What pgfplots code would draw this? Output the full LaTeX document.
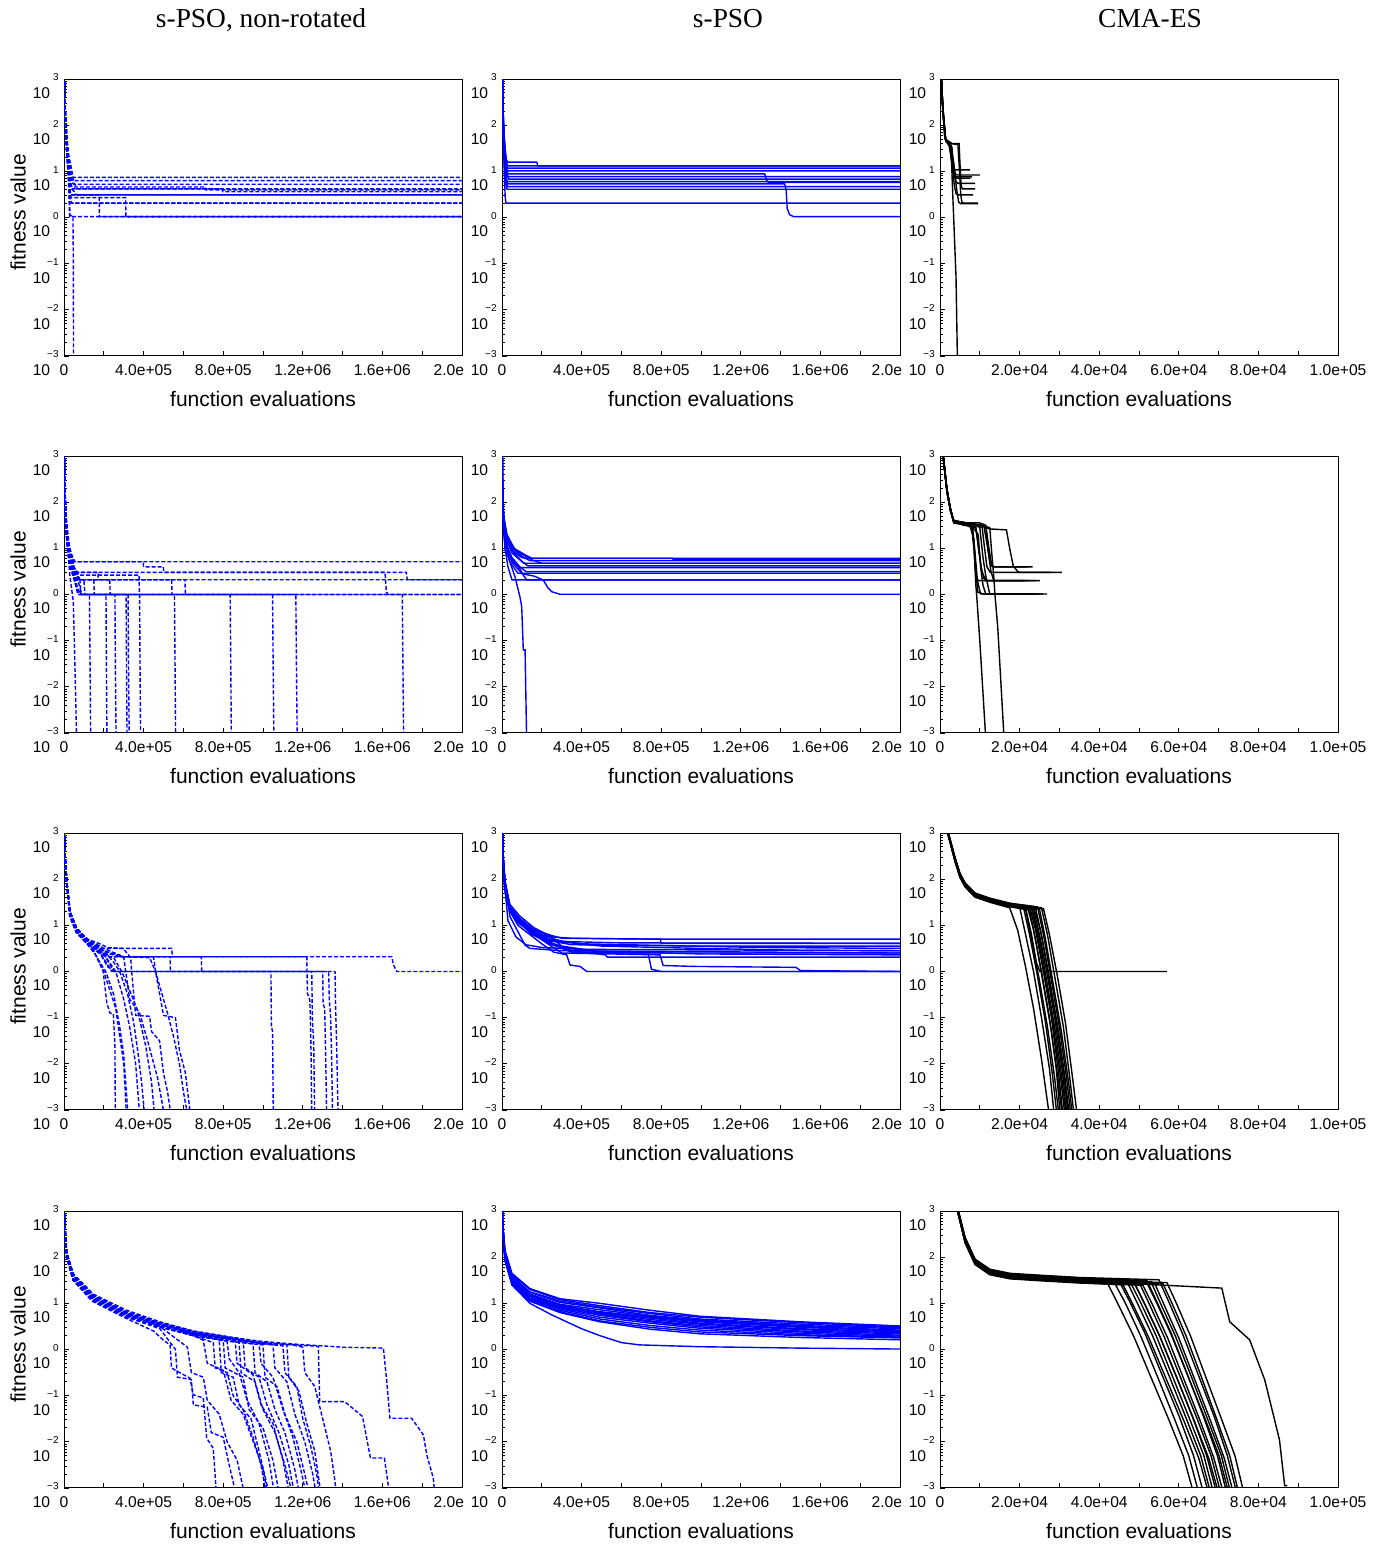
\documentclass[border=0pt]{standalone}
\usepackage{fontspec}
\setmainfont{Liberation Sans}
\newfontfamily\serifttl{Liberation Serif}
\usepackage{pgfplots}
\pgfplotsset{compat=1.18}
\newcommand{\tl}[1]{#1\llap{\raisebox{-8.8pt}[0pt][0pt]{\fontsize{7.8}{8}\selectfont 10}\hspace{4.25pt}}}
\pgfplotsset{
  panel/.style={
    scale only axis, width=199pt, height=138.5pt, anchor=south west,
    ymin=-3, ymax=3,
    ytick={-3,-2,-1,0,1,2,3},
    yticklabels={\tl{−3},\tl{−2},\tl{−1},\tl{0},\tl{1},\tl{2},\tl{3}},
    minor ytick={-2.699,-2.523,-2.398,-2.301,-2.222,-2.155,-2.097,-2.046,
                 -1.699,-1.523,-1.398,-1.301,-1.222,-1.155,-1.097,-1.046,
                 -0.699,-0.523,-0.398,-0.301,-0.222,-0.155,-0.097,-0.046,
                 0.301,0.477,0.602,0.699,0.778,0.845,0.903,0.954,
                 1.301,1.477,1.602,1.699,1.778,1.845,1.903,1.954,
                 2.301,2.477,2.602,2.699,2.778,2.845,2.903,2.954},
    tick align=inside, tick pos=left,
    major tick length=2.5pt, minor tick length=1.4pt,
    tick style={black, line width=0.45pt},
    axis line style={black, line width=0.5pt},
    scaled x ticks=false,
    yticklabel style={font=\fontsize{5}{5.5}\selectfont, anchor=east, inner sep=0pt, xshift=-2.5pt, yshift=0.8pt},
    xticklabel style={font=\fontsize{7.8}{8}\selectfont, anchor=north, inner sep=0pt, yshift=-4.2pt},
    xlabel={function evaluations},
    xlabel style={font=\fontsize{10.5}{12}\selectfont, at={(axis description cs:0.5,0)}, anchor=base, yshift=-25.4pt},
    clip=true,
  },
  wide/.style={xmin=0, xmax=2000000,
    xtick={0,200000,400000,600000,800000,1000000,1200000,1400000,1600000,1800000,2000000},
    xticklabels={0,,4.0e+05,,8.0e+05,,1.2e+06,,1.6e+06,,2.0e\phantom{+06}}},
  narrow/.style={xmin=0, xmax=100000,
    xtick={0,10000,20000,30000,40000,50000,60000,70000,80000,90000,100000},
    xticklabels={0,,2.0e+04,,4.0e+04,,6.0e+04,,8.0e+04,,1.0e+05}},
  fit/.style={ylabel={fitness value},
    ylabel style={font=\fontsize{10.5}{12}\selectfont, at={([xshift=-19.15pt,yshift=2.5pt]axis description cs:0,0.5)}, anchor=base}},
  ttl/.style={title={#1}, title style={font=\serifttl\fontsize{13.7}{15}\selectfont, anchor=base}},
  pn/.style={blue, line width=0.7pt, dash pattern=on 2pt off 1pt},
  ps/.style={blue, line width=0.7pt},
  cm/.style={black, line width=0.7pt},
}
\begin{document}
\begin{tikzpicture}
\path[use as bounding box] (0,0) rectangle (693pt,772pt);
%================ ROW 1 ==================
\begin{axis}[panel, wide, fit, at={(32pt,594pt)}, ttl={s-PSO, non-rotated},
  title style={at={([xshift=-1pt,yshift=20pt]axis description cs:0.5,1)}}]
\addplot[pn] coordinates {(0,3.6)(5000,2.5)(12000,1.8)(25000,1.3)(35000,0.95)(42000,0.87)(2000000,0.87)};
\addplot[pn] coordinates {(0,3.6)(6000,2.4)(14000,1.7)(25000,1.25)(35000,0.85)(45000,0.80)(2000000,0.80)};
\addplot[pn] coordinates {(0,3.6)(4000,2.6)(10000,1.9)(20000,1.4)(30000,1.0)(40000,0.75)(50000,0.72)(2000000,0.72)};
\addplot[pn] coordinates {(0,3.6)(5000,2.3)(12000,1.6)(22000,1.1)(32000,0.78)(40000,0.66)(710000,0.66)(712000,0.60)(2000000,0.60)};
\addplot[pn] coordinates {(0,3.6)(5000,2.4)(15000,1.6)(25000,1.05)(30000,0.7)(40000,0.62)(796000,0.62)(798000,0.56)(2000000,0.56)};
\addplot[pn] coordinates {(0,3.6)(5000,2.5)(15000,1.8)(20000,1.35)(30000,1.22)(40000,1.0)(50000,0.75)(60000,0.68)(65000,0.62)(2000000,0.62)};
\addplot[pn] coordinates {(0,3.6)(6000,2.2)(15000,1.4)(25000,0.9)(30000,0.55)(35000,0.49)(2000000,0.49)};
\addplot[pn] coordinates {(0,3.6)(5000,2.3)(15000,1.5)(25000,0.95)(33000,0.7)(42000,0.6)(55000,0.55)(60000,0.49)(2000000,0.49)};
\addplot[pn] coordinates {(0,3.6)(5000,2.4)(15000,1.5)(25000,0.9)(30000,0.6)(35000,0.49)(177000,0.49)(178000,0.02)(2000000,0.02)};
\addplot[pn] coordinates {(0,3.6)(5000,2.3)(15000,1.4)(25000,0.8)(30000,0.5)(35000,0.43)(310000,0.43)(311000,0.02)(2000000,0.02)};
\addplot[pn] coordinates {(0,3.6)(5000,2.2)(12000,1.5)(20000,1.0)(28000,0.6)(34000,0.35)(40000,0.31)(2000000,0.31)};
\addplot[pn] coordinates {(0,3.6)(4000,2.4)(12000,1.6)(20000,1.1)(26000,0.7)(32000,0.4)(36000,0.31)(2000000,0.31)};
\addplot[pn] coordinates {(0,3.6)(5000,2.3)(12000,1.5)(20000,1.0)(25000,0.5)(28000,0.02)(2000000,0.02)};
\addplot[pn] coordinates {(0,3.6)(5000,2.4)(13000,1.6)(20000,1.1)(26000,0.6)(30000,0.05)(45000,0.02)(47000,-1.0)(48000,-3.5)};
\end{axis}
\begin{axis}[panel, wide, at={(251pt,594pt)}, ttl={s-PSO},
  title style={at={([xshift=13.5pt,yshift=20pt]axis description cs:0.5,1)}}]
\addplot[ps] coordinates {(0,3.6)(4000,2.6)(8000,2.0)(15000,1.5)(22000,1.25)(30000,1.2)(175000,1.2)(180000,1.117)(2000000,1.117)};
\addplot[ps] coordinates {(0,3.6)(4000,2.5)(10000,1.8)(18000,1.35)(25000,1.15)(32000,1.117)(2000000,1.117)};
\addplot[ps] coordinates {(0,3.6)(5000,2.4)(10000,1.7)(18000,1.3)(25000,1.1)(30000,1.068)(2000000,1.068)};
\addplot[ps] coordinates {(0,3.6)(4000,2.5)(9000,1.8)(16000,1.3)(24000,1.05)(30000,1.009)(2000000,1.009)};
\addplot[ps] coordinates {(0,3.6)(4000,2.4)(9000,1.7)(16000,1.25)(24000,1.0)(32000,0.944)(1320000,0.944)(1330000,0.80)(1340000,0.76)(2000000,0.76)};
\addplot[ps] coordinates {(0,3.6)(4000,2.3)(9000,1.6)(16000,1.2)(24000,0.95)(30000,0.886)(2000000,0.886)};
\addplot[ps] coordinates {(0,3.6)(5000,2.3)(10000,1.6)(18000,1.2)(26000,0.9)(34000,0.830)(2000000,0.830)};
\addplot[ps] coordinates {(0,3.6)(4000,2.2)(9000,1.5)(16000,1.1)(22000,0.85)(28000,0.778)(2000000,0.778)};
\addplot[ps] coordinates {(0,3.6)(4000,2.3)(9000,1.6)(15000,1.1)(22000,0.8)(30000,0.728)(1420000,0.728)(1428000,0.6)(1433000,0.2)(1445000,0.06)(1465000,0.02)(2000000,0.02)};
\addplot[ps] coordinates {(0,3.6)(4000,2.2)(9000,1.5)(15000,1.0)(22000,0.75)(28000,0.669)(2000000,0.669)};
\addplot[ps] coordinates {(0,3.6)(4000,2.1)(8000,1.4)(14000,0.95)(20000,0.7)(26000,0.613)(2000000,0.613)};
\addplot[ps] coordinates {(0,3.6)(4000,2.3)(8000,1.6)(12000,0.9)(16000,0.45)(20000,0.31)(2000000,0.31)};
\end{axis}
\begin{axis}[panel, narrow, at={(470pt,594pt)}, ttl={CMA-ES},
  title style={at={([xshift=5.5pt,yshift=20pt]axis description cs:0.5,1)}}]
\addplot[cm] coordinates {(0,3.6)(300,3.1)(700,2.4)(1100,1.8)(1500,1.65)(2500,1.6)(3000,1.5)(3300,1.1)(3600,1.03)(7500,1.03)};
\addplot[cm] coordinates {(0,3.6)(350,3.0)(750,2.3)(1400,1.7)(2200,1.62)(2900,1.55)(3300,1.25)(3800,0.95)(4300,0.92)(10000,0.92)};
\addplot[cm] coordinates {(0,3.6)(300,3.1)(650,2.5)(1300,1.72)(2000,1.6)(2600,1.52)(3100,1.2)(3700,0.9)(4200,0.85)(7600,0.85)};
\addplot[cm] coordinates {(0,3.6)(320,3.0)(800,2.2)(1500,1.65)(2800,1.55)(3300,1.0)(4000,0.78)(4500,0.74)(8800,0.74)};
\addplot[cm] coordinates {(0,3.6)(300,3.2)(700,2.4)(1400,1.7)(3000,1.6)(4800,1.6)(5000,1.2)(5300,0.7)(5600,0.62)(8800,0.62)};
\addplot[cm] coordinates {(0,3.6)(350,2.9)(800,2.2)(1500,1.65)(2500,1.55)(3100,1.1)(3600,0.7)(4000,0.52)(4400,0.49)(8300,0.49)};
\addplot[cm] coordinates {(0,3.6)(300,3.0)(700,2.3)(1400,1.68)(3000,1.6)(4500,1.58)(4900,1.0)(5200,0.5)(5500,0.33)(6000,0.31)(9600,0.31)};
\addplot[cm] coordinates {(0,3.6)(300,3.1)(700,2.35)(1300,1.7)(2600,1.58)(3400,1.2)(4200,0.6)(4700,0.33)(5200,0.30)(9600,0.30)};
\addplot[cm] coordinates {(0,3.6)(300,3.0)(750,2.3)(1400,1.7)(2500,1.55)(2900,1.2)(3190,0.53)(4020,-1.28)(4400,-3.2)};
\addplot[cm] coordinates {(0,3.6)(300,3.0)(700,2.4)(1350,1.7)(2300,1.55)(2800,1.3)(3200,1.0)(3900,0.88)(8000,0.88)};
\end{axis}
%================ ROW 2 ==================
\begin{axis}[panel, wide, fit, at={(32pt,405.5pt)}]
\addplot[pn] coordinates {(0,3.6)(4000,2.3)(10000,1.6)(20000,1.15)(35000,0.85)(50000,0.71)(2000000,0.71)};
\addplot[pn] coordinates {(0,3.6)(4000,2.4)(10000,1.7)(20000,1.2)(35000,0.9)(55000,0.71)(398000,0.71)(400000,0.60)(499000,0.60)(502000,0.48)(1613000,0.48)(1620000,0.05)(1630000,0.0)(2000000,0.0)};
\addplot[pn] coordinates {(0,3.6)(3000,2.4)(9000,1.6)(18000,1.1)(35000,0.75)(60000,0.48)(1720000,0.48)(1725000,0.32)(2000000,0.32)};
\addplot[pn] coordinates {(0,3.6)(3000,2.3)(8000,1.6)(16000,1.1)(30000,0.75)(50000,0.5)(80000,0.32)(2000000,0.32)};
\addplot[pn] coordinates {(0,3.6)(3000,2.2)(8000,1.5)(16000,1.0)(30000,0.6)(50000,0.35)(70000,0.0)(2000000,0.0)};
\addplot[pn] coordinates {(0,3.6)(4000,2.3)(10000,1.5)(20000,0.9)(30000,0.39)(46700,-0.15)(55300,-1.6)(63800,-3.2)};
\addplot[pn] coordinates {(0,3.6)(4000,2.3)(10000,1.6)(20000,1.1)(40000,0.6)(60000,0.35)(70000,0.0)(128000,0.0)(131000,-1.5)(134000,-3.2)};
\addplot[pn] coordinates {(0,3.6)(4000,2.3)(10000,1.6)(20000,1.1)(40000,0.6)(60000,0.32)(80000,0.32)(85000,0.0)(211000,0.0)(213000,-1.5)(216000,-3.2)};
\addplot[pn] coordinates {(0,3.6)(4000,2.4)(10000,1.7)(20000,1.15)(50000,0.55)(70000,0.48)(171000,0.48)(172000,0.32)(230000,0.32)(232000,0.0)(256000,0.0)(258000,-1.5)(262000,-3.2)};
\addplot[pn] coordinates {(0,3.6)(4000,2.3)(10000,1.5)(20000,1.0)(45000,0.5)(70000,0.3)(90000,0.0)(312000,0.0)(314000,-1.5)(317000,-3.2)};
\addplot[pn] coordinates {(0,3.6)(4000,2.3)(10000,1.6)(25000,1.0)(50000,0.6)(80000,0.32)(150000,0.32)(152000,0.0)(322000,0.0)(324000,-1.5)(328000,-3.2)};
\addplot[pn] coordinates {(0,3.6)(4000,2.4)(10000,1.7)(25000,1.1)(50000,0.6)(75000,0.42)(377000,0.42)(379000,0.0)(380000,0.0)(382000,-1.5)(385000,-3.2)};
\addplot[pn] coordinates {(0,3.6)(4000,2.3)(10000,1.6)(20000,1.1)(50000,0.55)(80000,0.32)(541000,0.32)(543000,0.0)(555000,0.0)(558000,-1.5)(561000,-3.2)};
\addplot[pn] coordinates {(0,3.6)(4000,2.4)(10000,1.6)(20000,1.1)(50000,0.55)(70000,0.32)(608000,0.32)(610000,0.0)(2000000,0.0)};
\addplot[pn] coordinates {(0,3.6)(3000,2.3)(9000,1.5)(18000,1.0)(40000,0.5)(60000,0.2)(75000,0.0)(835000,0.0)(838000,-1.5)(841000,-3.2)};
\addplot[pn] coordinates {(0,3.6)(3000,2.3)(9000,1.5)(18000,1.0)(45000,0.45)(65000,0.15)(85000,0.0)(1048000,0.0)(1051000,-1.5)(1055000,-3.2)};
\addplot[pn] coordinates {(0,3.6)(3000,2.3)(9000,1.5)(18000,1.0)(45000,0.4)(70000,0.1)(90000,0.0)(1165000,0.0)(1168000,-1.5)(1172000,-3.2)};
\addplot[pn] coordinates {(0,3.6)(3000,2.3)(9000,1.5)(18000,1.0)(40000,0.5)(60000,0.32)(100000,0.32)(105000,0.0)(1700000,0.0)(1703000,-1.5)(1707000,-3.2)};
\end{axis}
\begin{axis}[panel, wide, at={(251pt,405.5pt)}]
\addplot[ps] coordinates {(0,3.6)(3000,2.3)(8000,1.7)(25000,1.3)(60000,1.0)(120000,0.85)(150000,0.786)(2000000,0.786)};
\addplot[ps] coordinates {(0,3.6)(3000,2.2)(7000,1.6)(20000,1.2)(50000,0.95)(100000,0.8)(120000,0.786)(858000,0.786)(860000,0.75)(2000000,0.75)};
\addplot[ps] coordinates {(0,3.6)(3000,2.3)(8000,1.65)(22000,1.25)(55000,0.98)(110000,0.8)(140000,0.734)(2000000,0.734)};
\addplot[ps] coordinates {(0,3.6)(2000,2.4)(7000,1.7)(20000,1.2)(50000,0.9)(90000,0.75)(110000,0.678)(2000000,0.678)};
\addplot[ps] coordinates {(0,3.6)(3000,2.2)(8000,1.6)(22000,1.15)(60000,0.9)(100000,0.72)(130000,0.619)(2000000,0.619)};
\addplot[ps] coordinates {(0,3.6)(2000,2.3)(6000,1.6)(18000,1.1)(45000,0.8)(70000,0.65)(90000,0.583)(2000000,0.583)};
\addplot[ps] coordinates {(0,3.6)(3000,2.2)(8000,1.6)(20000,1.1)(50000,0.8)(90000,0.6)(120000,0.496)(2000000,0.496)};
\addplot[ps] coordinates {(0,3.6)(2000,2.2)(6000,1.5)(16000,1.0)(40000,0.7)(65000,0.55)(80000,0.461)(2000000,0.461)};
\addplot[ps] coordinates {(0,3.6)(2000,2.2)(6000,1.5)(15000,1.0)(30000,0.6)(50000,0.316)(2000000,0.316)};
\addplot[ps] coordinates {(0,3.6)(3000,2.3)(8000,1.6)(20000,1.1)(50000,0.75)(90000,0.55)(110000,0.4)(125000,0.316)(2000000,0.316)};
\addplot[ps] coordinates {(0,3.6)(3000,2.3)(8000,1.6)(20000,1.1)(50000,0.7)(100000,0.45)(160000,0.4)(207000,0.316)(230000,0.15)(250000,0.06)(291000,0.006)(2000000,0.006)};
\addplot[ps] coordinates {(0,3.6)(3000,2.3)(8000,1.6)(20000,1.1)(40000,0.7)(65000,0.39)(90000,-0.05)(99000,-0.26)(107000,-1.2)(116000,-1.2)(124000,-3.2)};
\addplot[ps] coordinates {(0,3.6)(3000,2.4)(8000,1.7)(25000,1.25)(70000,0.95)(150000,0.75)(200000,0.678)(2000000,0.678)};
\end{axis}
\begin{axis}[panel, narrow, at={(470pt,405.5pt)}]
\addplot[cm] coordinates {(0,3.6)(900,2.9)(1800,2.2)(2600,1.85)(3400,1.6)(5000,1.55)(7500,1.5)(8500,1.2)(9000,0.5)(9500,0.05)(11000,0.01)(26900,0.01)};
\addplot[cm] coordinates {(0,3.6)(800,3.0)(1700,2.3)(2600,1.8)(3500,1.58)(6000,1.5)(8000,1.48)(8600,1.0)(9000,0.2)(9200,0.0)(10000,-1.0)(11550,-3.2)};
\addplot[cm] coordinates {(0,3.6)(850,2.95)(1700,2.25)(2500,1.9)(3300,1.62)(7000,1.5)(9000,1.45)(9800,0.9)(10500,0.5)(11500,0.3)(25100,0.3)};
\addplot[cm] coordinates {(0,3.6)(900,2.9)(1800,2.2)(2600,1.85)(3500,1.55)(9000,1.5)(10000,1.45)(10800,0.8)(11500,0.4)(12500,0.01)(26000,0.01)};
\addplot[cm] coordinates {(0,3.6)(800,3.0)(1700,2.3)(2500,1.9)(3400,1.6)(8000,1.52)(11000,1.5)(12000,1.0)(12800,0.5)(13500,0.3)(24000,0.3)};
\addplot[cm] coordinates {(0,3.6)(850,2.95)(1750,2.25)(2600,1.85)(3400,1.6)(10000,1.5)(12500,1.45)(13000,0.9)(13500,0.4)(13800,0.0)(14500,-0.7)(16150,-3.2)};
\addplot[cm] coordinates {(0,3.6)(900,2.9)(1800,2.2)(2700,1.8)(3600,1.55)(10000,1.55)(11500,1.5)(12300,1.0)(13000,0.62)(13800,0.6)(23300,0.6)};
\addplot[cm] coordinates {(0,3.6)(850,3.0)(1700,2.3)(2500,1.9)(3300,1.6)(10000,1.5)(11500,1.45)(12500,1.42)(16700,1.40)(17500,1.0)(18400,0.62)(19500,0.5)(20000,0.48)(30600,0.48)};
\addplot[cm] coordinates {(0,3.6)(800,3.0)(1700,2.3)(2600,1.85)(3400,1.6)(7500,1.5)(9000,1.46)(9800,1.0)(10300,0.6)(11000,0.35)(12000,0.3)(22000,0.3)};
\addplot[cm] coordinates {(0,3.6)(900,2.9)(1800,2.2)(2600,1.85)(3400,1.6)(8000,1.48)(9600,1.3)(10200,0.6)(10800,0.2)(11500,0.01)(25000,0.01)};
\addplot[cm] coordinates {(0,3.6)(850,2.95)(1750,2.25)(2600,1.85)(3400,1.58)(9000,1.5)(10600,1.45)(11200,1.0)(11800,0.6)(12600,0.48)(28000,0.48)};
\addplot[cm] coordinates {(0,3.6)(800,3.0)(1700,2.3)(2500,1.9)(3300,1.6)(7000,1.5)(8200,1.45)(8800,0.9)(9400,0.3)(10200,0.01)(24000,0.01)};
\addplot[cm] coordinates {(0,3.6)(900,2.9)(1800,2.2)(2600,1.85)(3400,1.6)(9000,1.52)(11500,1.48)(12000,1.0)(12600,0.7)(13200,0.6)(22000,0.6)};
\addplot[cm] coordinates {(0,3.6)(850,2.95)(1700,2.3)(2600,1.85)(3500,1.55)(6500,1.5)(8000,1.45)(8500,1.0)(9000,0.4)(9600,0.3)(21000,0.3)};
\end{axis}
%================ ROW 3 ==================
\begin{axis}[panel, wide, fit, at={(32pt,217pt)}]
\addplot[pn] coordinates {(0,3.6)(7000,2.4)(15000,1.9)(35000,1.2)(70000,0.88)(120000,0.7)(180000,0.6)(220000,0.52)(297000,0.50)(541000,0.50)(545000,0.32)(1647000,0.32)(1655000,0.15)(1672000,0.0)(2000000,0.0)};
\addplot[pn] coordinates {(0,3.6)(6000,2.5)(13500,1.98)(30000,1.26)(64000,0.9)(114000,0.68)(160000,0.5)(220000,0.32)(1220000,0.32)(1223000,-0.47)(1235000,-0.61)(1238000,-0.97)(1242000,-1.9)(1245000,-3.2)};
\addplot[pn] coordinates {(0,3.6)(6000,2.5)(14000,1.95)(30000,1.3)(64000,0.92)(114000,0.7)(197000,0.4)(250000,0.0)(1362000,0.0)(1365000,-0.8)(1370000,-1.6)(1378000,-3.2)};
\addplot[pn] coordinates {(0,3.6)(6000,2.4)(13000,1.9)(28000,1.2)(60000,0.85)(110000,0.62)(190000,0.35)(240000,0.0)(1300000,0.0)(1302000,-0.7)(1310000,-0.8)(1315000,-1.8)(1320000,-3.2)};
\addplot[pn] coordinates {(0,3.6)(6000,2.5)(13500,2.0)(30000,1.25)(64000,0.88)(114000,0.66)(200000,0.38)(260000,0.0)(1040000,0.0)(1042000,-1.19)(1048000,-1.3)(1052000,-3.2)};
\addplot[pn] coordinates {(0,3.6)(6000,2.5)(14000,1.95)(32000,1.25)(70000,0.85)(130000,0.6)(200000,0.45)(280000,0.32)(690000,0.32)(692000,0.0)(1330000,0.0)(1333000,-0.6)(1340000,-1.0)(1345000,-1.9)(1350000,-3.2)};
\addplot[pn] coordinates {(0,3.6)(6000,2.4)(13000,1.9)(30000,1.2)(64000,0.85)(114000,0.64)(170000,0.45)(230000,0.32)(533000,0.32)(535000,0.0)(1245000,0.0)(1248000,-1.0)(1255000,-1.6)(1260000,-3.2)};
\addplot[pn] coordinates {(0,3.6)(6000,2.5)(13500,1.98)(30000,1.26)(64000,0.9)(114000,0.6)(150000,0.45)(197000,0.0)(215000,-0.68)(231000,-0.9)(248000,-0.92)(256000,-1.63)(258000,-3.2)};
\addplot[pn] coordinates {(0,3.6)(6000,2.4)(13500,1.9)(30000,1.2)(64000,0.85)(114000,0.62)(160000,0.35)(200000,0.0)(230000,-0.4)(260000,-0.8)(280000,-1.4)(300000,-2.0)(315000,-3.2)};
\addplot[pn] coordinates {(0,3.6)(6000,2.5)(13500,1.95)(30000,1.3)(64000,0.95)(114000,0.7)(180000,0.2)(210000,0.0)(250000,-0.5)(280000,-1.2)(300000,-1.8)(323000,-3.2)};
\addplot[pn] coordinates {(0,3.6)(6000,2.5)(13500,1.95)(30000,1.28)(64000,0.9)(114000,0.68)(180000,0.4)(220000,0.1)(260000,0.0)(300000,-0.6)(330000,-1.2)(360000,-2.0)(382000,-3.2)};
\addplot[pn] coordinates {(0,3.6)(6000,2.5)(13500,1.98)(30000,1.3)(64000,0.93)(114000,0.7)(200000,0.45)(250000,0.2)(280000,0.0)(320000,-0.5)(350000,-1.1)(370000,-1.7)(390000,-2.4)(407000,-3.2)};
\addplot[pn] coordinates {(0,3.6)(6000,2.4)(13500,1.92)(30000,1.24)(64000,0.88)(114000,0.65)(200000,0.35)(250000,0.3)(290000,0.0)(320000,-0.3)(370000,-0.85)(410000,-1.6)(440000,-2.4)(457000,-3.2)};
\addplot[pn] coordinates {(0,3.6)(6000,2.5)(13500,1.97)(30000,1.27)(64000,0.92)(114000,0.7)(200000,0.5)(300000,0.32)(310000,0.0)(330000,-0.6)(380000,-0.9)(420000,-1.5)(470000,-2.3)(508000,-3.2)};
\addplot[pn] coordinates {(0,3.6)(6000,2.5)(13500,1.99)(30000,1.29)(64000,0.93)(114000,0.7)(200000,0.5)(297000,0.5)(335000,0.3)(340000,0.0)(360000,-0.95)(430000,-0.97)(440000,-1.3)(480000,-1.5)(500000,-2.2)(520000,-2.6)(541000,-3.2)};
\addplot[pn] coordinates {(0,3.6)(6000,2.4)(13500,1.94)(30000,1.25)(64000,0.89)(114000,0.66)(200000,0.4)(300000,0.32)(430000,0.3)(460000,0.0)(520000,-0.9)(550000,-1.4)(580000,-2.0)(600000,-2.6)(625000,-3.2)};
\addplot[pn] coordinates {(0,3.6)(6000,2.5)(13500,1.96)(30000,1.27)(64000,0.91)(114000,0.7)(200000,0.45)(300000,0.32)(450000,0.32)(460000,0.0)(500000,-0.95)(560000,-1.0)(580000,-1.7)(610000,-2.2)(638000,-3.2)};
\end{axis}
\begin{axis}[panel, wide, at={(251pt,217pt)}]
\addplot[ps] coordinates {(0,3.6)(5000,2.5)(15000,1.9)(40000,1.45)(90000,1.2)(160000,0.95)(250000,0.75)(350000,0.72)(800000,0.70)(2000000,0.70)};
\addplot[ps] coordinates {(0,3.6)(5000,2.6)(15000,1.98)(40000,1.4)(90000,1.12)(157000,0.9)(250000,0.78)(300000,0.72)(795000,0.70)(800000,0.61)(2000000,0.61)};
\addplot[ps] coordinates {(0,3.6)(5000,2.5)(15000,1.9)(40000,1.35)(90000,1.1)(160000,0.88)(200000,0.8)(300000,0.65)(600000,0.62)(2000000,0.61)};
\addplot[ps] coordinates {(0,3.6)(4000,2.4)(12000,1.8)(35000,1.35)(80000,1.05)(150000,0.85)(220000,0.68)(350000,0.58)(1000000,0.55)(2000000,0.55)};
\addplot[ps] coordinates {(0,3.6)(5000,2.5)(15000,1.9)(40000,1.4)(90000,1.1)(160000,0.85)(240000,0.7)(400000,0.6)(1300000,0.52)(2000000,0.50)};
\addplot[ps] coordinates {(0,3.6)(5000,2.5)(15000,1.85)(40000,1.35)(90000,1.08)(160000,0.82)(260000,0.66)(500000,0.55)(1000000,0.5)(1500000,0.46)(2000000,0.45)};
\addplot[ps] coordinates {(0,3.6)(5000,2.5)(15000,1.95)(40000,1.4)(90000,1.15)(157000,0.92)(241000,0.76)(300000,0.55)(460000,0.45)(465000,0.40)(2000000,0.40)};
\addplot[ps] coordinates {(0,3.6)(5000,2.4)(15000,1.85)(40000,1.3)(90000,1.05)(150000,0.8)(250000,0.6)(400000,0.45)(1000000,0.38)(2000000,0.36)};
\addplot[ps] coordinates {(0,3.6)(5000,2.5)(15000,1.9)(40000,1.35)(90000,1.1)(160000,0.85)(250000,0.62)(350000,0.45)(520000,0.36)(530000,0.31)(2000000,0.31)};
\addplot[ps] coordinates {(0,3.6)(5000,2.4)(15000,1.85)(40000,1.3)(80000,1.0)(140000,0.8)(200000,0.6)(260000,0.42)(325000,0.36)(342000,0.14)(392000,0.11)(426000,0.0)(2000000,0.0)};
\addplot[ps] coordinates {(0,3.6)(5000,2.5)(15000,1.9)(40000,1.35)(90000,1.05)(160000,0.8)(240000,0.6)(350000,0.42)(734000,0.40)(751000,0.05)(800000,0.0)(2000000,0.0)};
\addplot[ps] coordinates {(0,3.6)(5000,2.5)(15000,1.9)(40000,1.35)(90000,1.1)(160000,0.8)(300000,0.4)(794000,0.36)(810000,0.13)(966000,0.11)(1477000,0.09)(1500000,0.02)(2000000,0.0)};
\addplot[ps] coordinates {(0,3.6)(5000,2.5)(15000,1.8)(30000,1.1)(70000,0.75)(120000,0.58)(200000,0.52)(400000,0.48)(2000000,0.45)};
\addplot[ps] coordinates {(0,3.6)(5000,2.5)(15000,1.9)(40000,1.19)(116000,0.57)(141000,0.5)(300000,0.45)(2000000,0.40)};
\end{axis}
\begin{axis}[panel, narrow, at={(470pt,217pt)}]
\addplot[cm] coordinates {(0,3.6)(2000,3.0)(3800,2.37)(5000,2.04)(6300,1.83)(8800,1.61)(12500,1.5)(17500,1.38)(19500,0.9)(21500,0.1)(23500,-0.8)(25500,-1.9)(27600,-3.2)};
\addplot[cm] coordinates {(0,3.6)(2100,3.0)(3800,2.45)(5000,2.12)(6300,1.91)(8800,1.69)(12500,1.58)(17600,1.47)(20000,1.40)(21500,0.8)(23500,0.0)(25500,-1.0)(27500,-2.1)(28800,-3.2)};
\addplot[cm] coordinates {(0,3.6)(2000,3.0)(3800,2.42)(5000,2.09)(6300,1.88)(8800,1.66)(12500,1.55)(17600,1.44)(21000,1.38)(22500,0.8)(24500,-0.1)(26500,-1.1)(28200,-2.2)(29500,-3.2)};
\addplot[cm] coordinates {(0,3.6)(1900,3.0)(3800,2.40)(5000,2.07)(6300,1.86)(8800,1.64)(12500,1.53)(17600,1.42)(21500,1.35)(23000,0.7)(25000,-0.2)(27000,-1.2)(28800,-2.3)(30000,-3.2)};
\addplot[cm] coordinates {(0,3.6)(2000,3.0)(3800,2.44)(5000,2.11)(6300,1.90)(8800,1.68)(12500,1.57)(17600,1.46)(22000,1.40)(23500,0.9)(25500,0.0)(27500,-1.0)(29200,-2.1)(30300,-3.2)};
\addplot[cm] coordinates {(0,3.6)(2000,3.0)(3800,2.38)(5000,2.05)(6300,1.84)(8800,1.62)(12500,1.51)(17600,1.40)(22500,1.33)(24000,0.7)(26000,-0.3)(28000,-1.3)(29600,-2.3)(30800,-3.2)};
\addplot[cm] coordinates {(0,3.6)(2100,3.0)(3800,2.46)(5000,2.13)(6300,1.92)(8800,1.70)(12500,1.59)(17600,1.48)(22500,1.42)(24000,0.9)(26000,0.0)(28000,-1.0)(29800,-2.2)(31000,-3.2)};
\addplot[cm] coordinates {(0,3.6)(2000,3.0)(3800,2.42)(5000,2.09)(6300,1.88)(8800,1.66)(12500,1.55)(17600,1.44)(23000,1.38)(24500,0.8)(26500,-0.2)(28500,-1.2)(30300,-2.3)(31500,-3.2)};
\addplot[cm] coordinates {(0,3.6)(2000,3.0)(3800,2.43)(5000,2.10)(6300,1.89)(8800,1.67)(12500,1.56)(17600,1.45)(23000,1.40)(25000,0.7)(27000,-0.3)(29000,-1.3)(30600,-2.3)(31800,-3.2)};
\addplot[cm] coordinates {(0,3.6)(1900,3.0)(3800,2.40)(5000,2.07)(6300,1.86)(8800,1.64)(12500,1.53)(17600,1.42)(23500,1.36)(25000,0.8)(27000,-0.1)(29000,-1.1)(30800,-2.2)(32000,-3.2)};
\addplot[cm] coordinates {(0,3.6)(2100,3.0)(3800,2.45)(5000,2.12)(6300,1.91)(8800,1.69)(12500,1.58)(17600,1.47)(23500,1.41)(25200,0.9)(27200,0.0)(29300,-1.1)(31100,-2.2)(32300,-3.2)};
\addplot[cm] coordinates {(0,3.6)(2000,3.0)(3800,2.41)(5000,2.08)(6300,1.87)(8800,1.65)(12500,1.54)(17600,1.43)(24000,1.37)(25500,0.8)(27500,-0.2)(29600,-1.2)(31400,-2.3)(32600,-3.2)};
\addplot[cm] coordinates {(0,3.6)(2000,3.0)(3800,2.44)(5000,2.11)(6300,1.90)(8800,1.68)(12500,1.57)(17600,1.46)(24500,1.40)(26000,0.8)(28000,-0.2)(30000,-1.2)(31800,-2.3)(33000,-3.2)};
\addplot[cm] coordinates {(0,3.6)(1900,3.0)(3800,2.39)(5000,2.06)(6300,1.85)(8800,1.63)(12500,1.52)(17600,1.41)(25000,1.35)(26500,0.7)(28500,-0.3)(30500,-1.3)(32300,-2.4)(33400,-3.2)};
\addplot[cm] coordinates {(0,3.6)(2000,3.0)(3800,2.43)(5000,2.10)(6300,1.89)(8800,1.67)(12500,1.56)(17600,1.45)(25500,1.38)(27000,0.8)(29000,-0.2)(31000,-1.2)(32600,-2.3)(33800,-3.2)};
\addplot[cm] coordinates {(0,3.6)(2000,3.0)(3800,2.42)(5000,2.09)(6300,1.88)(8800,1.66)(12500,1.55)(17600,1.44)(26000,1.36)(27500,0.8)(29500,-0.1)(31500,-1.1)(33300,-2.3)(34600,-3.2)};
\addplot[cm] coordinates {(0,3.6)(2000,3.0)(3800,2.43)(5000,2.10)(6300,1.89)(8800,1.67)(12500,1.56)(17600,1.45)(21500,1.38)(23000,0.8)(24200,0.2)(25100,0.0)(57000,0.0)};
\end{axis}
%================ ROW 4 ==================
\begin{axis}[panel, wide, fit, at={(32pt,28pt)}]
\addplot[pn] coordinates {(0,3.6)(3000,2.7)(13000,2.0)(45000,1.5)(140000,1.05)(300000,0.7)(450000,0.4)(500000,0.2)(533000,0.10)(540000,-0.4)(560000,-0.45)(633000,-0.62)(650000,-0.98)(700000,-1.05)(717000,-1.92)(750000,-2.14)(767000,-3.2)};
\addplot[pn] coordinates {(0,3.6)(3000,2.75)(13400,2.0)(47000,1.5)(147000,1.05)(315000,0.7)(482000,0.45)(560000,0.0)(570000,-0.6)(640000,-0.65)(650000,-1.2)(720000,-1.25)(740000,-1.8)(800000,-1.9)(830000,-2.5)(868000,-3.2)};
\addplot[pn] coordinates {(0,3.6)(3000,2.8)(13400,2.1)(47000,1.6)(147000,1.15)(315000,0.78)(482000,0.5)(620000,0.05)(640000,-0.5)(700000,-0.6)(720000,-1.1)(780000,-1.4)(820000,-2.0)(870000,-2.4)(910000,-3.2)};
\addplot[pn] coordinates {(0,3.6)(3000,2.75)(13400,2.05)(47000,1.55)(147000,1.12)(315000,0.76)(482000,0.55)(650000,0.3)(750000,0.15)(760000,-0.4)(820000,-0.5)(850000,-1.0)(900000,-1.3)(950000,-1.9)(990000,-2.5)(1019000,-3.2)};
\addplot[pn] coordinates {(0,3.6)(3000,2.7)(13400,2.0)(47000,1.5)(147000,1.08)(315000,0.72)(482000,0.5)(650000,0.3)(700000,0.2)(720000,-0.3)(800000,-0.45)(840000,-1.1)(900000,-1.4)(960000,-2.1)(1000000,-2.6)(1027000,-3.2)};
\addplot[pn] coordinates {(0,3.6)(3000,2.75)(13400,2.08)(47000,1.58)(147000,1.15)(315000,0.8)(482000,0.55)(650000,0.33)(780000,0.22)(790000,-0.5)(850000,-0.6)(880000,-1.2)(940000,-1.5)(980000,-2.2)(1035000,-3.2)};
\addplot[pn] coordinates {(0,3.6)(3000,2.8)(13400,2.1)(47000,1.62)(147000,1.18)(315000,0.82)(482000,0.58)(650000,0.36)(818000,0.24)(830000,-0.2)(880000,-0.5)(920000,-1.1)(980000,-1.6)(1030000,-2.4)(1060000,-3.2)};
\addplot[pn] coordinates {(0,3.6)(3000,2.7)(13400,2.0)(47000,1.52)(147000,1.1)(315000,0.74)(482000,0.52)(650000,0.32)(800000,0.2)(810000,-0.4)(900000,-0.6)(930000,-1.3)(1000000,-1.7)(1050000,-2.4)(1085000,-3.2)};
\addplot[pn] coordinates {(0,3.6)(3000,2.75)(13400,2.06)(47000,1.56)(147000,1.14)(315000,0.78)(482000,0.56)(650000,0.35)(818000,0.25)(860000,0.18)(870000,-0.3)(950000,-0.55)(990000,-1.2)(1050000,-1.6)(1100000,-2.4)(1136000,-3.2)};
\addplot[pn] coordinates {(0,3.6)(3000,2.7)(13400,2.02)(47000,1.5)(147000,1.08)(315000,0.72)(482000,0.5)(650000,0.3)(818000,0.2)(880000,0.15)(890000,-0.5)(960000,-0.7)(1000000,-1.3)(1060000,-1.8)(1110000,-2.5)(1152000,-3.2)};
\addplot[pn] coordinates {(0,3.6)(3000,2.8)(13400,2.12)(47000,1.64)(147000,1.2)(315000,0.85)(482000,0.6)(650000,0.4)(818000,0.28)(900000,0.2)(910000,-0.4)(980000,-0.6)(1020000,-1.2)(1080000,-1.8)(1130000,-2.5)(1161000,-3.2)};
\addplot[pn] coordinates {(0,3.6)(3000,2.7)(13400,2.03)(47000,1.53)(147000,1.1)(315000,0.74)(482000,0.53)(650000,0.34)(818000,0.22)(950000,0.12)(960000,-0.5)(1020000,-0.7)(1060000,-1.3)(1110000,-1.8)(1160000,-2.6)(1186000,-3.2)};
\addplot[pn] coordinates {(0,3.6)(3000,2.75)(13400,2.07)(47000,1.57)(147000,1.13)(315000,0.77)(482000,0.55)(650000,0.37)(818000,0.26)(980000,0.15)(990000,-0.3)(1050000,-0.6)(1100000,-1.3)(1150000,-1.9)(1190000,-2.6)(1220000,-3.2)};
\addplot[pn] coordinates {(0,3.6)(3000,2.7)(13400,2.0)(47000,1.5)(147000,1.06)(315000,0.7)(482000,0.48)(650000,0.3)(818000,0.18)(1000000,0.1)(1010000,-0.6)(1070000,-0.8)(1110000,-1.4)(1170000,-2.0)(1210000,-2.7)(1236000,-3.2)};
\addplot[pn] coordinates {(0,3.6)(3000,2.8)(13400,2.1)(47000,1.6)(147000,1.16)(315000,0.8)(482000,0.57)(650000,0.38)(818000,0.25)(985000,0.14)(1050000,0.1)(1060000,-0.4)(1120000,-0.7)(1160000,-1.4)(1210000,-2.0)(1250000,-2.7)(1270000,-3.2)};
\addplot[pn] coordinates {(0,3.6)(3000,2.75)(13400,2.05)(47000,1.55)(147000,1.12)(315000,0.76)(482000,0.54)(650000,0.35)(818000,0.23)(985000,0.13)(1100000,0.08)(1110000,-0.5)(1170000,-0.8)(1200000,-1.5)(1240000,-2.1)(1270000,-2.7)(1286000,-3.2)};
\addplot[pn] coordinates {(0,3.6)(3000,2.7)(13400,2.04)(47000,1.54)(147000,1.1)(315000,0.73)(482000,0.52)(650000,0.34)(818000,0.24)(985000,0.15)(1120000,0.1)(1130000,-0.6)(1180000,-0.9)(1220000,-1.6)(1260000,-2.2)(1280000,-2.8)(1294000,-3.2)};
\addplot[pn] coordinates {(0,3.6)(3000,2.8)(13400,2.08)(47000,1.58)(147000,1.15)(315000,0.79)(482000,0.56)(650000,0.38)(818000,0.27)(985000,0.17)(1150000,0.1)(1200000,0.05)(1210000,-0.5)(1260000,-0.8)(1300000,-1.5)(1340000,-2.2)(1360000,-2.8)(1370000,-3.2)};
\addplot[pn] coordinates {(0,3.6)(3000,2.75)(13400,2.05)(47000,1.55)(147000,1.11)(315000,0.75)(482000,0.53)(650000,0.35)(818000,0.24)(985000,0.14)(1150000,0.1)(1278000,0.07)(1285000,-1.13)(1410000,-1.13)(1430000,-1.2)(1500000,-1.45)(1540000,-2.35)(1610000,-2.35)(1638000,-3.2)};
\addplot[pn] coordinates {(0,3.6)(3000,2.8)(13400,2.1)(47000,1.6)(147000,1.18)(315000,0.8)(482000,0.58)(650000,0.4)(818000,0.28)(985000,0.18)(1150000,0.12)(1400000,0.05)(1605000,0.03)(1622000,-0.70)(1638000,-1.49)(1747000,-1.49)(1806000,-1.85)(1823000,-2.28)(1856000,-2.79)(1864000,-3.2)};
\end{axis}
\begin{axis}[panel, wide, at={(251pt,28pt)}]
\addplot[ps] coordinates {(0,3.6)(3000,2.8)(15000,2.15)(50000,1.65)(140000,1.32)(291000,1.1)(492000,1.0)(744000,0.85)(995000,0.72)(1500000,0.6)(2000000,0.51)};
\addplot[ps] coordinates {(0,3.6)(3000,2.7)(15000,2.1)(50000,1.62)(140000,1.3)(291000,1.08)(492000,0.95)(744000,0.8)(995000,0.7)(1500000,0.58)(2000000,0.49)};
\addplot[ps] coordinates {(0,3.6)(3000,2.75)(15000,2.05)(50000,1.58)(140000,1.25)(291000,1.05)(492000,0.92)(744000,0.78)(995000,0.66)(1500000,0.55)(2000000,0.47)};
\addplot[ps] coordinates {(0,3.6)(3000,2.7)(15000,2.0)(50000,1.55)(140000,1.24)(291000,1.02)(492000,0.9)(744000,0.74)(995000,0.64)(1500000,0.52)(2000000,0.45)};
\addplot[ps] coordinates {(0,3.6)(3000,2.75)(15000,2.08)(50000,1.6)(140000,1.2)(291000,0.98)(492000,0.86)(744000,0.72)(995000,0.62)(1500000,0.5)(2000000,0.42)};
\addplot[ps] coordinates {(0,3.6)(3000,2.7)(15000,2.02)(50000,1.52)(140000,1.18)(291000,0.95)(492000,0.82)(744000,0.7)(995000,0.6)(1500000,0.48)(2000000,0.40)};
\addplot[ps] coordinates {(0,3.6)(3000,2.7)(15000,2.0)(50000,1.5)(140000,1.2)(291000,0.97)(492000,0.8)(744000,0.68)(995000,0.57)(1500000,0.45)(2000000,0.38)};
\addplot[ps] coordinates {(0,3.6)(3000,2.65)(15000,1.98)(50000,1.48)(140000,1.15)(291000,0.92)(492000,0.78)(744000,0.65)(995000,0.55)(1500000,0.43)(2000000,0.36)};
\addplot[ps] coordinates {(0,3.6)(3000,2.75)(15000,2.05)(50000,1.5)(140000,1.17)(291000,0.94)(492000,0.76)(744000,0.62)(995000,0.52)(1500000,0.4)(2000000,0.34)};
\addplot[ps] coordinates {(0,3.6)(3000,2.65)(15000,1.95)(50000,1.45)(140000,1.12)(291000,0.9)(492000,0.74)(744000,0.6)(995000,0.49)(1500000,0.38)(2000000,0.31)};
\addplot[ps] coordinates {(0,3.6)(3000,2.7)(15000,2.0)(50000,1.47)(140000,1.1)(291000,0.88)(492000,0.7)(744000,0.57)(995000,0.46)(1500000,0.35)(2000000,0.29)};
\addplot[ps] coordinates {(0,3.6)(3000,2.65)(15000,1.95)(50000,1.42)(140000,1.08)(291000,0.85)(492000,0.66)(744000,0.52)(995000,0.42)(1500000,0.32)(2000000,0.27)};
\addplot[ps] coordinates {(0,3.6)(3000,2.7)(15000,1.98)(50000,1.45)(140000,1.05)(291000,0.82)(492000,0.62)(744000,0.48)(995000,0.38)(1500000,0.3)(2000000,0.25)};
\addplot[ps] coordinates {(0,3.6)(3000,2.6)(15000,1.92)(50000,1.4)(140000,1.05)(291000,0.8)(492000,0.6)(744000,0.44)(995000,0.34)(1500000,0.26)(2000000,0.21)};
\addplot[ps] coordinates {(0,3.6)(3000,2.6)(15000,1.95)(50000,1.4)(140000,1.0)(250000,0.75)(400000,0.45)(492000,0.3)(600000,0.15)(690000,0.10)(1000000,0.06)(1500000,0.03)(2000000,0.01)};
\end{axis}
\begin{axis}[panel, narrow, at={(470pt,28pt)}]
\addplot[cm] coordinates {(0,3.6)(4500,3.0)(6300,2.37)(8800,1.9)(12500,1.68)(17600,1.59)(25000,1.55)(35000,1.5)(42000,1.45)(44640,1.0)(48600,0.3)(53000,-0.6)(57400,-1.5)(61100,-2.3)(64000,-3.2)};
\addplot[cm] coordinates {(0,3.6)(4400,3.0)(6300,2.34)(8800,1.87)(12500,1.65)(17600,1.56)(25000,1.52)(35000,1.47)(44000,1.42)(46600,1.0)(50400,0.3)(54700,-0.6)(58900,-1.5)(62500,-2.3)(65300,-3.2)};
\addplot[cm] coordinates {(0,3.6)(4600,3.0)(6300,2.4)(8800,1.93)(12500,1.71)(17600,1.62)(25000,1.58)(35000,1.53)(45000,1.48)(47600,1.05)(51500,0.35)(55800,-0.55)(60100,-1.45)(63700,-2.3)(66500,-3.2)};
\addplot[cm] coordinates {(0,3.6)(4500,3.0)(6300,2.32)(8800,1.85)(12500,1.63)(17600,1.54)(25000,1.5)(35000,1.45)(46000,1.4)(48600,0.95)(52500,0.25)(56900,-0.65)(61300,-1.55)(65000,-2.35)(67800,-3.2)};
\addplot[cm] coordinates {(0,3.6)(4500,3.0)(6300,2.39)(8800,1.92)(12500,1.7)(17600,1.61)(25000,1.57)(35000,1.52)(47000,1.47)(49600,1.0)(53400,0.3)(57700,-0.6)(61900,-1.5)(65500,-2.3)(68300,-3.2)};
\addplot[cm] coordinates {(0,3.6)(4500,3.0)(6300,2.35)(8800,1.88)(12500,1.66)(17600,1.57)(25000,1.53)(35000,1.48)(48000,1.43)(50500,1.0)(54300,0.3)(58500,-0.6)(62700,-1.5)(66300,-2.3)(69000,-3.2)};
\addplot[cm] coordinates {(0,3.6)(4600,3.0)(6300,2.42)(8800,1.95)(12500,1.73)(17600,1.64)(25000,1.6)(35000,1.55)(48500,1.5)(51100,1.05)(54900,0.35)(59200,-0.55)(63400,-1.45)(67000,-2.3)(69800,-3.2)};
\addplot[cm] coordinates {(0,3.6)(4400,3.0)(6300,2.33)(8800,1.86)(12500,1.64)(17600,1.55)(25000,1.51)(35000,1.46)(49000,1.41)(51600,0.95)(55400,0.25)(59700,-0.65)(63900,-1.55)(67500,-2.35)(70300,-3.2)};
\addplot[cm] coordinates {(0,3.6)(4500,3.0)(6300,2.38)(8800,1.91)(12500,1.69)(17600,1.6)(25000,1.56)(35000,1.51)(50000,1.46)(52500,1.0)(56200,0.3)(60400,-0.6)(64600,-1.5)(68100,-2.3)(70800,-3.2)};
\addplot[cm] coordinates {(0,3.6)(4400,3.0)(6300,2.31)(8800,1.84)(12500,1.62)(17600,1.53)(25000,1.49)(35000,1.44)(51000,1.39)(53500,0.95)(57200,0.25)(61300,-0.65)(65400,-1.55)(68800,-2.35)(71500,-3.2)};
\addplot[cm] coordinates {(0,3.6)(4600,3.0)(6300,2.41)(8800,1.94)(12500,1.72)(17600,1.63)(25000,1.59)(35000,1.54)(52000,1.49)(54400,1.05)(58100,0.35)(62200,-0.55)(66200,-1.45)(69700,-2.3)(72300,-3.2)};
\addplot[cm] coordinates {(0,3.6)(4500,3.0)(6300,2.36)(8800,1.89)(12500,1.67)(17600,1.58)(25000,1.54)(35000,1.49)(52000,1.44)(54500,1.0)(58200,0.3)(62400,-0.6)(66600,-1.5)(70100,-2.3)(72800,-3.2)};
\addplot[cm] coordinates {(0,3.6)(4500,3.0)(6300,2.39)(8800,1.92)(12500,1.7)(17600,1.61)(25000,1.57)(35000,1.52)(53000,1.47)(55400,1.0)(59100,0.3)(63200,-0.6)(67200,-1.5)(70700,-2.3)(73300,-3.2)};
\addplot[cm] coordinates {(0,3.6)(4400,3.0)(6300,2.34)(8800,1.87)(12500,1.65)(17600,1.56)(25000,1.52)(35000,1.47)(54000,1.42)(56400,0.95)(60000,0.25)(64000,-0.65)(68000,-1.55)(71400,-2.35)(74000,-3.2)};
\addplot[cm] coordinates {(0,3.6)(4600,3.0)(6300,2.43)(8800,1.96)(12500,1.74)(17600,1.65)(25000,1.61)(35000,1.56)(55000,1.51)(57400,1.05)(60900,0.35)(64900,-0.55)(68900,-1.45)(72200,-2.3)(74800,-3.2)};
\addplot[cm] coordinates {(0,3.6)(4500,3.0)(6300,2.35)(8800,1.88)(12500,1.66)(17600,1.57)(25000,1.53)(35000,1.48)(56000,1.43)(58300,1.0)(61800,0.3)(65700,-0.6)(69500,-1.5)(72800,-2.3)(75300,-3.2)};
\addplot[cm] coordinates {(0,3.6)(4500,3.0)(6300,2.37)(8800,1.9)(12500,1.68)(17600,1.59)(25000,1.55)(35000,1.5)(57000,1.45)(59400,1.0)(62900,0.3)(66800,-0.6)(70700,-1.5)(74100,-2.3)(76600,-3.2)};
\addplot[cm] coordinates {(0,3.6)(4500,3.0)(6300,2.4)(8800,1.92)(12500,1.7)(17600,1.6)(25000,1.56)(35000,1.5)(50000,1.42)(70800,1.33)(72800,0.60)(77800,0.21)(81600,-0.66)(85300,-1.96)(86600,-2.95)(87300,-2.95)};
\end{axis}
\end{tikzpicture}
\end{document}
